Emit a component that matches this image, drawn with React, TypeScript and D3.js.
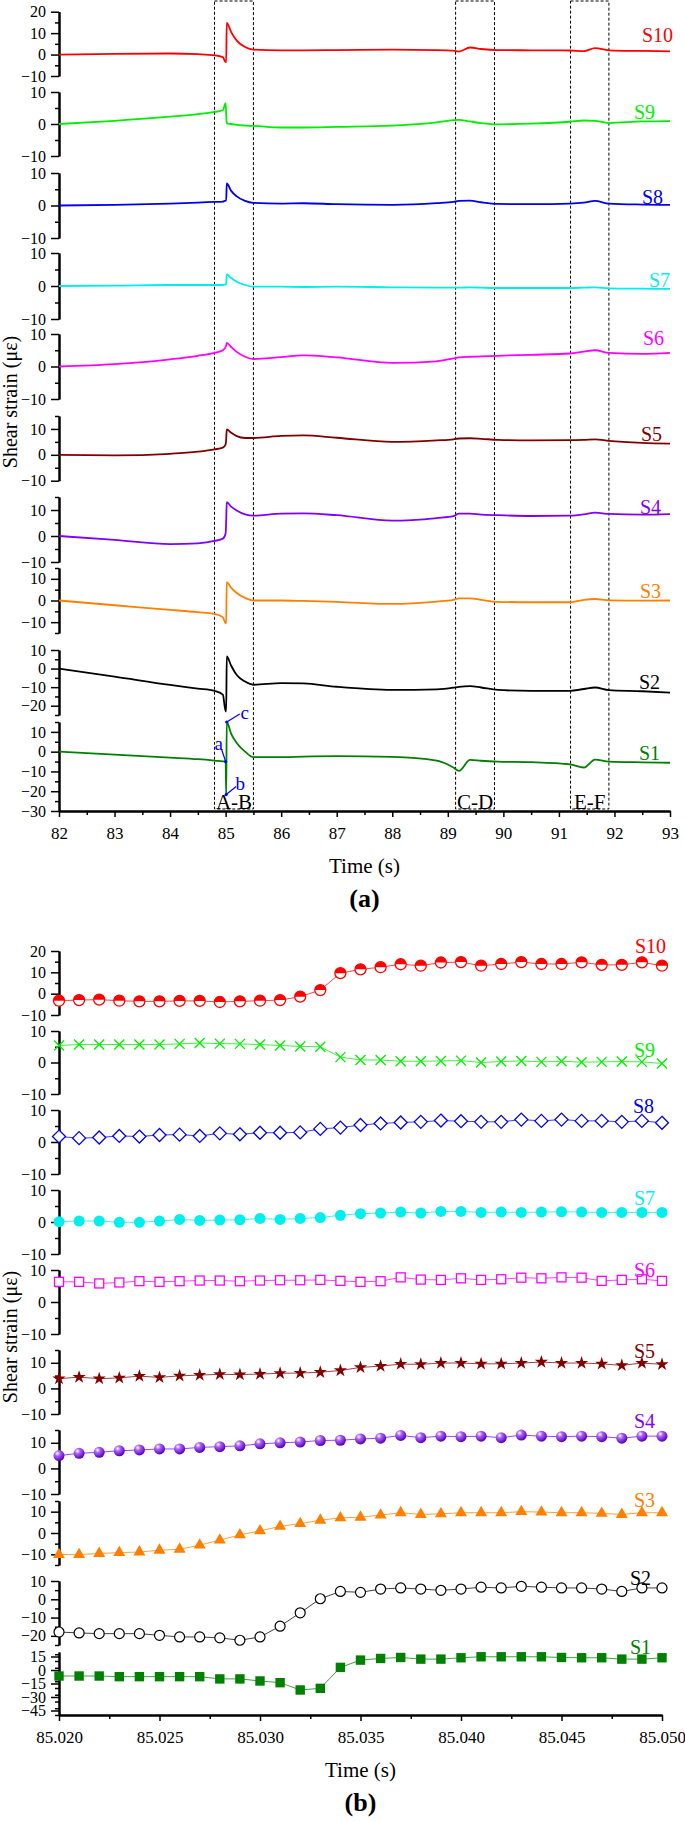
import { useEffect, useRef } from "react";
import * as d3 from "d3";

const FONT = "'Liberation Serif', 'Times New Roman', serif";

const names = ["S10", "S9", "S8", "S7", "S6", "S5", "S4", "S3", "S2", "S1"];
const colors = ["#ff0000", "#00ee00", "#0000ee", "#00eeee", "#ff00ff", "#800000", "#8000ff", "#ff8000", "#000000", "#008000"];
const markerKinds = ["half", "cross", "diamond", "dot", "square", "star", "sphere", "triangle", "ring", "block"];

// panel (a): sampled shear strain, 82-93 s
const timeA = [82, 83, 84, 84.5, 84.8, 84.95, 85.0, 85.01, 85.02, 85.1, 85.2, 85.35, 85.5, 86, 86.4, 87, 88, 88.8, 89.1, 89.2, 89.4, 89.6, 89.9, 90.5, 91.2, 91.45, 91.65, 91.9, 92.5, 93];
const a10 = [0, 0.3, 0.5, 0.2, -0.3, -1.2, -3.5, -3.5, 14.8, 10.5, 6.5, 3.5, 2.3, 2.0, 2.0, 2.1, 2.3, 2.1, 1.8, 1.4, 3.3, 2.6, 2.1, 2.0, 1.9, 1.6, 3.0, 2.0, 1.7, 1.5];
const a9 = [0, 1.0, 2.3, 3.1, 3.8, 4.3, 6.5, 3.0, 0.2, 0, -0.3, -0.5, -0.6, -1.1, -1.1, -0.9, -0.5, 0.5, 1.2, 1.3, 0.8, 0.3, -0.1, 0.1, 0.7, 1.1, 1.0, 0.3, 0.8, 0.9];
const a8 = [0, 0.2, 0.6, 0.9, 1.1, 1.2, 1.5, 1.5, 6.8, 4.5, 2.8, 1.4, 0.8, 0.6, 0.7, 0.4, 0.2, 0.7, 1.1, 1.4, 1.5, 1.0, 0.5, 0.4, 0.6, 0.9, 1.4, 0.6, 0.3, 0.2];
const a7 = [0, 0.1, 0.3, 0.3, 0.3, 0.3, 0.5, 0.5, 3.5, 2.4, 1.3, 0.3, -0.2, -0.2, -0.3, -0.2, -0.4, -0.5, -0.5, -0.5, -0.4, -0.5, -0.6, -0.6, -0.6, -0.5, -0.4, -0.7, -0.8, -0.9];
const a6 = [0, 0.7, 2.2, 3.3, 4.2, 5.0, 6.0, 6.5, 7.3, 6.0, 4.5, 3.0, 2.3, 2.9, 3.4, 2.8, 1.1, 1.6, 2.5, 2.8, 3.0, 3.1, 3.3, 3.6, 4.0, 4.6, 5.0, 4.2, 3.9, 4.2];
const a5 = [0, -0.2, 0.4, 1.2, 2.1, 2.8, 4.0, 6.0, 9.8, 8.5, 7.2, 6.5, 6.5, 7.3, 7.5, 6.6, 5.0, 5.6, 6.0, 6.3, 6.4, 6.2, 5.8, 5.6, 5.7, 5.8, 6.0, 5.4, 4.6, 4.3];
const a4 = [0, -1.5, -3.1, -2.8, -1.9, -1.0, 1.0, 6.0, 13.0, 11.3, 9.8, 8.3, 7.8, 8.6, 8.7, 8.0, 5.9, 6.9, 7.6, 8.6, 8.6, 8.2, 8.0, 7.7, 7.8, 8.3, 9.0, 8.5, 8.2, 8.4];
const a3 = [0, -2.2, -4.3, -5.4, -6.2, -7.8, -10.5, -10.5, 8.5, 5.8, 3.5, 1.2, 0, 0, -0.2, -0.6, -1.6, -0.5, 0.3, 1.0, 1.0, 0.3, -0.6, -0.8, -0.8, 0.3, 0.7, 0.1, -0.1, 0];
const a2 = [0, -4.3, -8.8, -10.8, -12.0, -14.0, -23.0, -23.0, 6.6, 1.5, -3.5, -7.0, -8.7, -7.8, -8.0, -9.8, -11.5, -11.2, -10.3, -9.8, -9.4, -10.2, -11.5, -12.0, -12.0, -11.0, -10.2, -11.6, -12.2, -13.0];
const a1 = [0, -1.5, -3.0, -3.8, -4.5, -4.9, -5.0, -21.7, 15.0, 9.0, 4.4, 0, -2.8, -2.8, -2.5, -2.3, -2.6, -4.5, -8.0, -9.7, -4.2, -4.6, -5.0, -5.3, -6.4, -8.0, -4.0, -5.0, -5.4, -5.6];
const seriesA = [a10, a9, a8, a7, a6, a5, a4, a3, a2, a1];

// panel (b): 1 ms samples, 85.020-85.050 s
const timeB = [85.020, 85.021, 85.022, 85.023, 85.024, 85.025, 85.026, 85.027, 85.028, 85.029, 85.030, 85.031, 85.032, 85.033, 85.034, 85.035, 85.036, 85.037, 85.038, 85.039, 85.040, 85.041, 85.042, 85.043, 85.044, 85.045, 85.046, 85.047, 85.048, 85.049, 85.050];
const b10 = [-3.3, -3.0, -2.8, -3.3, -3.6, -3.6, -3.4, -3.4, -3.9, -3.6, -3.3, -3.0, -1.4, 1.7, 9.6, 11.4, 12.4, 13.8, 13.1, 14.6, 14.8, 13.1, 13.9, 14.8, 13.9, 13.9, 14.7, 13.5, 13.5, 14.7, 13.1];
const b9 = [5.4, 5.7, 5.7, 5.7, 5.7, 5.7, 5.9, 6.2, 6.0, 5.9, 5.7, 5.4, 5.1, 5.0, 1.7, 0.8, 0.8, 0.4, 0.4, 0.5, 0.6, 0, 0.3, 0.5, 0.2, 0.4, 0.1, 0.2, 0.3, 0.2, -0.3];
const b8 = [1.7, 1.2, 1.4, 1.9, 1.7, 2.2, 2.3, 1.9, 2.7, 2.4, 2.9, 2.9, 3.0, 4.1, 4.5, 5.3, 5.8, 6.1, 6.3, 6.7, 6.5, 6.3, 6.3, 7.0, 6.6, 7.0, 6.6, 6.6, 6.3, 6.6, 6.0];
const b7 = [0.1, 0.3, 0.3, -0.1, -0.1, 0.3, 0.8, 0.5, 0.6, 0.7, 1.1, 0.8, 1.1, 1.4, 2.1, 2.6, 2.8, 3.1, 2.8, 3.3, 3.3, 3.0, 3.1, 3.0, 3.1, 3.2, 3.1, 3.0, 3.0, 3.0, 3.0];
const b6 = [6.3, 6.3, 5.8, 6.1, 6.5, 6.3, 6.5, 6.7, 6.7, 6.5, 6.7, 6.8, 6.8, 6.9, 6.6, 6.3, 6.5, 7.7, 7.0, 6.9, 7.4, 6.9, 7.1, 7.6, 7.4, 7.7, 7.6, 6.6, 6.9, 7.1, 6.6];
const b5 = [3.8, 4.4, 3.8, 4.1, 4.8, 4.3, 4.9, 5.2, 5.5, 5.4, 5.6, 5.9, 6.0, 6.3, 7.0, 8.2, 8.7, 9.5, 9.4, 9.9, 9.9, 9.6, 9.6, 9.9, 10.3, 9.9, 9.9, 9.6, 9.0, 9.9, 9.4];
const b4 = [5.0, 5.9, 6.3, 6.9, 7.2, 7.6, 7.6, 8.2, 8.5, 8.8, 9.6, 10.0, 10.3, 10.9, 11.0, 11.5, 11.8, 12.9, 12.0, 12.6, 12.4, 12.6, 12.0, 13.0, 12.6, 12.4, 12.6, 12.4, 11.8, 12.6, 12.6];
const b3 = [-10.1, -10.1, -9.6, -9.2, -8.9, -8.1, -7.6, -5.7, -3.3, -0.9, 1.0, 3.1, 4.4, 6.0, 7.1, 7.4, 8.4, 9.5, 8.7, 9.0, 9.5, 9.5, 9.5, 10.0, 9.8, 9.5, 9.5, 9.2, 8.7, 9.5, 9.5];
const b2 = [-17.9, -18.4, -18.8, -18.8, -18.8, -19.7, -20.6, -20.6, -21.1, -22.4, -20.6, -14.7, -7.4, 0.3, 4.3, 3.8, 5.6, 6.2, 5.6, 4.9, 5.6, 6.6, 6.2, 7.1, 6.6, 6.2, 6.2, 5.6, 4.3, 6.2, 6.2];
const b1 = [-6.7, -6.7, -6.7, -7.4, -7.4, -7.4, -7.4, -7.4, -9.9, -9.9, -12.2, -14.1, -22.2, -20.4, 2.9, 11.0, 12.8, 13.9, 12.1, 12.1, 13.6, 14.7, 14.7, 14.7, 14.7, 13.9, 13.6, 13.6, 12.1, 12.1, 13.6];
const seriesB = [b10, b9, b8, b7, b6, b5, b4, b3, b2, b1];

// y domains and labelled ticks for each strip
const domA = [[-10, 20], [-10, 10], [-10, 10], [-10, 10], [-10, 10], [-10, 15], [-10, 15], [-15, 15], [-25, 10], [-30, 15]];
const domB = [[-10, 20], [-10, 10], [-10, 10], [-10, 10], [-10, 10], [-10, 15], [-10, 15], [-15, 15], [-25, 10], [-50, 20]];
const ticksA = [[-10, 0, 10, 20], [-10, 0, 10], [-10, 0, 10], [-10, 0, 10], [-10, 0, 10], [-10, 0, 10], [-10, 0, 10], [-10, 0, 10], [-20, -10, 0, 10], [-30, -20, -10, 0, 10]];
const ticksB = [[-10, 0, 10, 20], [-10, 0, 10], [-10, 0, 10], [-10, 0, 10], [-10, 0, 10], [-10, 0, 10], [-10, 0, 10], [-10, 0, 10], [-20, -10, 0, 10], [-45, -30, -15, 0, 15]];
const xTicksA = [82, 83, 84, 85, 86, 87, 88, 89, 90, 91, 92, 93];
const xTicksB = [85.02, 85.025, 85.03, 85.035, 85.04, 85.045, 85.05];

const boxes = [
  { label: "A-B", t0: 84.8, t1: 85.5 },
  { label: "C-D", t0: 89.14, t1: 89.84 },
  { label: "E-F", t0: 91.21, t1: 91.9 },
];

// layout (pixels): strip bottom/top for each sensor
const stripA = [[76, 11.7], [156, 92], [238, 173], [319, 253], [399, 334], [480.7, 416], [562, 497], [633, 568], [715, 650], [811, 722]];
const stripB = [[1015, 951], [1094, 1031], [1174, 1110], [1254, 1190], [1334, 1270], [1414, 1350], [1494, 1430], [1565, 1501], [1645, 1581], [1715, 1652]];
const labelPosA = [[673, -9], [655, -2], [663, -1], [670, -2], [664, -8], [662, -3], [661, 0], [661, -3], [660, -4], [660, -3]];
const labelPosB = [[666, -13], [655, -6], [654, -10], [655, -7], [655, -4], [655, -6], [655, -8], [655, -6], [651, -3], [651, -4]];

const X0 = 59;

const App = () => {
  const ref = useRef<SVGSVGElement>(null);

  useEffect(() => {
    if (!ref.current) return;
    const svg = d3.select(ref.current);
    svg.selectAll("*").remove();

    const defs = svg.append("defs");
    const grad = defs.append("radialGradient").attr("id", "sphere").attr("cx", "35%").attr("cy", "30%").attr("r", "70%");
    grad.append("stop").attr("offset", "0%").attr("stop-color", "#ffffff");
    grad.append("stop").attr("offset", "35%").attr("stop-color", "#a860ff");
    grad.append("stop").attr("offset", "100%").attr("stop-color", "#5a00b4");

    const xA = d3.scaleLinear().domain([82, 93]).range([X0, 670]);
    const xB = d3.scaleLinear().domain([85.02, 85.05]).range([X0, 662]);

    const styleAxis = (g: any) => {
      g.attr("font-size", 16).attr("font-family", FONT);
      g.select(".domain").attr("stroke-width", 2);
      g.selectAll(".tick line").attr("stroke-width", 1.5);
    };

    const yAxes = (doms: number[][], strips: number[][], majors: number[][]) =>
      doms.map((dom, i) => {
        const y = d3.scaleLinear().domain(dom).range(strips[i]);
        const step = dom[0] === -50 ? 7.5 : 5;
        const minor = d3.range(dom[0], dom[1] + 0.01, step).filter((v) => !majors[i].includes(v));
        const g = svg.append("g").attr("transform", `translate(${X0},0)`);
        g.call(d3.axisLeft(y).tickValues(minor).tickSize(4).tickSizeOuter(0).tickFormat(() => ""));
        g.call(styleAxis);
        const gm = svg.append("g").attr("transform", `translate(${X0},0)`);
        gm.call(d3.axisLeft(y).tickValues(majors[i]).tickSize(8).tickSizeOuter(0).tickPadding(5));
        gm.call(styleAxis);
        return y;
      });

    const xAxis = (x: any, ticks: number[], minorTicks: number[], yPos: number, fmt: any) => {
      const g = svg.append("g").attr("transform", `translate(0,${yPos})`);
      g.call(d3.axisBottom(x).tickValues(minorTicks).tickSize(4).tickSizeOuter(0).tickFormat(() => ""));
      g.call(styleAxis);
      const gm = svg.append("g").attr("transform", `translate(0,${yPos})`);
      gm.call(d3.axisBottom(x).tickValues(ticks).tickSize(6).tickSizeOuter(0).tickPadding(10).tickFormat(fmt));
      gm.call(styleAxis);
      gm.attr("font-size", 17);
    };

    // ---------- panel (a) ----------
    const yA = yAxes(domA, stripA, ticksA);
    xAxis(xA, xTicksA, xTicksA.slice(0, -1).map((t) => t + 0.5), 811, d3.format("d"));

    boxes.forEach((b) => {
      svg.append("rect")
        .attr("x", xA(b.t0)).attr("y", 1)
        .attr("width", xA(b.t1) - xA(b.t0)).attr("height", 808)
        .attr("fill", "none").attr("stroke", "#000").attr("stroke-width", 1)
        .attr("stroke-dasharray", "3,2");
      svg.append("text")
        .attr("x", (xA(b.t0) + xA(b.t1)) / 2).attr("y", 809)
        .attr("text-anchor", "middle").attr("font-family", FONT).attr("font-size", 21)
        .text(b.label);
    });

    seriesA.forEach((vals, i) => {
      const y = yA[i];
      const line = d3.line<number>()
        .x((_, k) => xA(timeA[k]))
        .y((d) => y(d))
        .curve(d3.curveMonotoneX);
      svg.append("path").attr("d", line(vals)).attr("fill", "none")
        .attr("stroke", colors[i]).attr("stroke-width", 1.8).attr("stroke-linejoin", "round");
      svg.append("text")
        .attr("x", labelPosA[i][0]).attr("y", y(vals[vals.length - 1]) + labelPosA[i][1])
        .attr("text-anchor", "end").attr("font-family", FONT).attr("font-size", 20)
        .attr("fill", colors[i]).text(names[i]);
    });

    // a, b, c annotations on S1
    const y1 = yA[9];
    const notes = [
      { t: 85.0, v: -5.0, label: "a", lx: -4, ly: -12, tx: -7, ty: -12 },
      { t: 85.01, v: -21.7, label: "b", lx: 10, ly: -8, tx: 14, ty: -5 },
      { t: 85.02, v: 15.0, label: "c", lx: 13, ly: -8, tx: 18, ty: -3 },
    ];
    notes.forEach((n) => {
      const px = xA(n.t);
      const py = y1(n.v);
      svg.append("line").attr("x1", px).attr("y1", py).attr("x2", px + n.lx).attr("y2", py + n.ly)
        .attr("stroke", "#0000ff").attr("stroke-width", 1.2);
      svg.append("circle").attr("cx", px).attr("cy", py).attr("r", 1.6).attr("fill", "#0000ff");
      svg.append("text").attr("x", px + n.tx).attr("y", py + n.ty)
        .attr("text-anchor", "middle").attr("font-family", FONT).attr("font-size", 19)
        .attr("fill", "#0000ff").text(n.label);
    });

    // ---------- panel (b) ----------
    const yB = yAxes(domB, stripB, ticksB);
    xAxis(xB, xTicksB, xTicksB.slice(0, -1).map((t) => t + 0.0025), 1715, d3.format(".3f"));

    const drawMarker = (kind: string, color: string, cx: number, cy: number) => {
      const g = svg.append("g").attr("transform", `translate(${cx},${cy})`);
      if (kind === "half") {
        g.append("circle").attr("r", 5.5).attr("fill", "#fff").attr("stroke", color).attr("stroke-width", 1.3);
        g.append("path").attr("d", "M-5.5,0A5.5,5.5 0 0 1 5.5,0Z").attr("fill", color);
      } else if (kind === "cross") {
        g.append("path").attr("d", "M-5,-5L5,5M-5,5L5,-5").attr("stroke", color).attr("stroke-width", 1.3);
      } else if (kind === "diamond") {
        g.append("path").attr("d", "M0,-6.5L6.5,0L0,6.5L-6.5,0Z").attr("fill", "#fff").attr("stroke", color).attr("stroke-width", 1.3);
      } else if (kind === "dot") {
        g.append("circle").attr("r", 5.5).attr("fill", color);
      } else if (kind === "square") {
        g.append("rect").attr("x", -4.5).attr("y", -4.5).attr("width", 9).attr("height", 9)
          .attr("fill", "#fff").attr("stroke", color).attr("stroke-width", 1.3);
      } else if (kind === "star") {
        g.append("path").attr("d", d3.symbol().type(d3.symbolStar).size(55)()).attr("fill", color);
      } else if (kind === "sphere") {
        g.append("circle").attr("r", 5.5).attr("fill", "url(#sphere)");
      } else if (kind === "triangle") {
        g.append("path").attr("d", d3.symbol().type(d3.symbolTriangle).size(62)()).attr("fill", color);
      } else if (kind === "ring") {
        g.append("circle").attr("r", 5).attr("fill", "#fff").attr("stroke", color).attr("stroke-width", 1.2);
      } else if (kind === "block") {
        g.append("rect").attr("x", -4.7).attr("y", -4.7).attr("width", 9.4).attr("height", 9.4).attr("fill", color);
      }
    };

    seriesB.forEach((vals, i) => {
      const y = yB[i];
      const line = d3.line<number>().x((_, k) => xB(timeB[k])).y((d) => y(d));
      svg.append("path").attr("d", line(vals)).attr("fill", "none")
        .attr("stroke", colors[i]).attr("stroke-width", 1).attr("stroke-opacity", 0.75);
      vals.forEach((v, k) => drawMarker(markerKinds[i], colors[i], xB(timeB[k]), y(v)));
      svg.append("text")
        .attr("x", labelPosB[i][0]).attr("y", y(vals[vals.length - 1]) + labelPosB[i][1])
        .attr("text-anchor", "end").attr("font-family", FONT).attr("font-size", 20)
        .attr("fill", colors[i]).text(names[i]);
    });

    // ---------- titles ----------
    const titles = [
      { x: (xA(82) + xA(93)) / 2, y: 873, text: "Time (s)", size: 21, bold: false },
      { x: (xA(82) + xA(93)) / 2, y: 907, text: "(a)", size: 26, bold: true },
      { x: (xB(85.02) + xB(85.05)) / 2, y: 1777, text: "Time (s)", size: 21, bold: false },
      { x: (xB(85.02) + xB(85.05)) / 2, y: 1811, text: "(b)", size: 26, bold: true },
    ];
    titles.forEach((t) => {
      svg.append("text").attr("x", t.x).attr("y", t.y).attr("text-anchor", "middle")
        .attr("font-family", FONT).attr("font-size", t.size)
        .attr("font-weight", t.bold ? "bold" : "normal").text(t.text);
    });
    [402, 1337].forEach((cy) => {
      svg.append("text").attr("transform", `translate(17,${cy}) rotate(-90)`)
        .attr("text-anchor", "middle").attr("font-family", FONT).attr("font-size", 20)
        .text("Shear strain (με)");
    });
  }, []);

  return (
    <svg
      ref={ref}
      width={685}
      height={1822}
      viewBox="0 0 685 1822"
      style={{ position: "absolute", left: 0, top: 0, background: "#fff" }}
    />
  );
};

export default App;
